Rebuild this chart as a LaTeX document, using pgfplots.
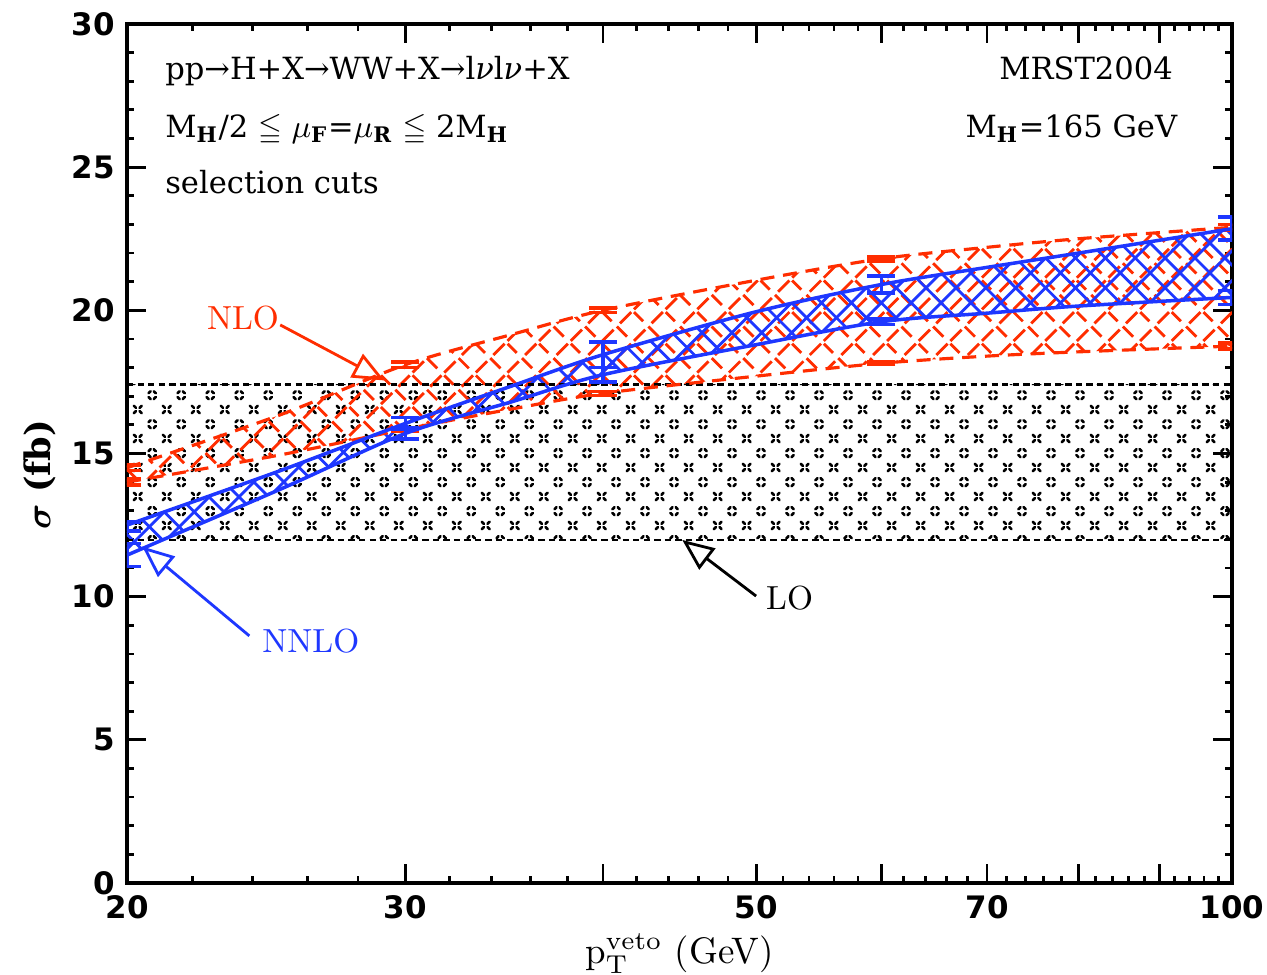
\documentclass[border=0pt]{standalone}
\usepackage{amsmath, amssymb}
\usepackage{fontspec}
\usepackage{pgfplots}
\pgfplotsset{compat=1.18}
\usepgfplotslibrary{fillbetween}
\usetikzlibrary{patterns, arrows.meta, calc}
\newfontfamily\slab{DejaVu Serif}
\newfontfamily\ticksans{DejaVu Sans}
\definecolor{nlored}{RGB}{255,45,0}
\definecolor{nnloblue}{RGB}{30,55,255}

% blue crosshatch, solid
\pgfdeclarepatternformonly{bluehatch}{\pgfqpoint{-1pt}{-1pt}}{\pgfqpoint{9.5pt}{9.5pt}}{\pgfqpoint{8.5pt}{8.5pt}}{
  \pgfsetlinewidth{0.8pt}
  \pgfpathmoveto{\pgfqpoint{0pt}{0pt}}\pgfpathlineto{\pgfqpoint{8.5pt}{8.5pt}}
  \pgfpathmoveto{\pgfqpoint{0pt}{8.5pt}}\pgfpathlineto{\pgfqpoint{8.5pt}{0pt}}
  \pgfusepath{stroke}}
% red crosshatch, broken
\pgfdeclarepatternformonly{redhatch}{\pgfqpoint{-1pt}{-1pt}}{\pgfqpoint{10pt}{10pt}}{\pgfqpoint{9pt}{9pt}}{
  \pgfsetlinewidth{0.8pt}
  \pgfpathmoveto{\pgfqpoint{0.4pt}{0.4pt}}\pgfpathlineto{\pgfqpoint{3.6pt}{3.6pt}}
  \pgfpathmoveto{\pgfqpoint{5.4pt}{5.4pt}}\pgfpathlineto{\pgfqpoint{8.6pt}{8.6pt}}
  \pgfpathmoveto{\pgfqpoint{0.4pt}{8.6pt}}\pgfpathlineto{\pgfqpoint{3.0pt}{6.0pt}}
  \pgfpathmoveto{\pgfqpoint{4.5pt}{4.5pt}}\pgfpathlineto{\pgfqpoint{7.4pt}{1.6pt}}
  \pgfusepath{stroke}}
% LO dotted crosshatch
\pgfdeclarepatternformonly{lodots}{\pgfqpoint{-0.5pt}{-0.5pt}}{\pgfqpoint{8.75pt}{8.75pt}}{\pgfqpoint{8.25pt}{8.25pt}}{
  \pgfsetlinewidth{0.75pt}
  \pgfsetroundcap
  % ^ mark
  \pgfpathmoveto{\pgfqpoint{1.0pt}{0.5pt}}\pgfpathlineto{\pgfqpoint{1.6pt}{1.1pt}}
  \pgfpathmoveto{\pgfqpoint{2.5pt}{1.1pt}}\pgfpathlineto{\pgfqpoint{3.1pt}{0.5pt}}
  % x mark
  \pgfpathmoveto{\pgfqpoint{5.1pt}{3.1pt}}\pgfpathlineto{\pgfqpoint{5.7pt}{3.7pt}}
  \pgfpathmoveto{\pgfqpoint{7.3pt}{3.1pt}}\pgfpathlineto{\pgfqpoint{6.7pt}{3.7pt}}
  \pgfpathmoveto{\pgfqpoint{5.1pt}{5.2pt}}\pgfpathlineto{\pgfqpoint{5.7pt}{4.6pt}}
  \pgfpathmoveto{\pgfqpoint{7.3pt}{5.2pt}}\pgfpathlineto{\pgfqpoint{6.7pt}{4.6pt}}
  % v mark
  \pgfpathmoveto{\pgfqpoint{1.0pt}{7.7pt}}\pgfpathlineto{\pgfqpoint{1.6pt}{7.1pt}}
  \pgfpathmoveto{\pgfqpoint{2.5pt}{7.1pt}}\pgfpathlineto{\pgfqpoint{3.1pt}{7.7pt}}
  \pgfusepath{stroke}}

\begin{document}
\begin{tikzpicture}
\begin{axis}[
    name=ax,
    scale only axis,
    width=11.05cm, height=8.59cm,
    xmode=log,
    xmin=20, xmax=100, ymin=0, ymax=30,
    xtick={20,30,40,50,60,70,80,90,100},
    xticklabels={20,30,,50,,70,,,100},
    minor xtick={22,24,26,28,32,34,36,38,42,44,46,48,52,54,56,58,62,64,66,68,72,74,76,78,82,84,86,88,92,94,96,98},
    ytick={0,5,10,15,20,25,30},
    minor y tick num=4,
    tick align=inside,
    major tick length=0.19cm,
    minor tick length=0.07cm,
    every tick/.style={black, line width=0.8pt},
    axis line style={line width=1pt},
    /pgf/number format/assume math mode=true,
    tick label style={font=\ticksans\bfseries\fontsize{8.8}{10}\selectfont},
    xlabel={$\mathrm{p}_{\mathrm{T}}^{\mathrm{veto}}$ (GeV)},
    xlabel style={font=\fontsize{10.5}{12}\selectfont, at={(axis description cs:0.5,-0.082)}, anchor=center},
    ylabel={$\boldsymbol{\sigma}$ {\slab\bfseries (fb)}},
    ylabel style={font=\fontsize{10}{12}\selectfont, at={(axis description cs:-0.079,0.475)}, anchor=center},
    clip=true,
]
  % LO band
  \addplot[name path=lou, black, line width=0.8pt, dash pattern=on 1.8pt off 1.2pt] coordinates {(20,17.4)(100,17.4)};
  \addplot[name path=lol, black, line width=0.8pt, dash pattern=on 1.8pt off 1.2pt] coordinates {(20,11.98)(100,11.98)};
  \addplot[pattern=lodots, pattern color=black, draw=none] fill between[of=lou and lol];

  % NLO band
  \addplot[name path=nu, nlored, smooth, tension=0.5, line width=0.9pt, dash pattern=on 4pt off 2.5pt] coordinates {
    (20,14.5)(25,16.35)(30,18.1)(35,19.15)(40,20.0)(50,21.05)(60,21.8)(70,22.2)(80,22.5)(100,22.9)};
  \addplot[name path=nl, nlored, smooth, tension=0.5, line width=0.9pt, dash pattern=on 4pt off 2.5pt] coordinates {
    (20,14.0)(25,14.95)(30,15.85)(35,16.55)(40,17.1)(50,17.7)(60,18.15)(70,18.4)(80,18.55)(100,18.75)};
  \addplot[pattern=redhatch, pattern color=nlored, draw=none] fill between[of=nu and nl];

  % NLO error bars
  \addplot[draw=none, mark=none, error bars/.cd, y dir=both, y explicit,
    error bar style={draw=nlored, line width=1pt, solid},
    error mark options={rotate=90, draw=nlored, line width=1pt, mark size=4pt, solid}] coordinates {
    (20,14.5) +- (0,0.1) (30,18.1) +- (0,0.1) (40,20.0) +- (0,0.08) (60,21.8) +- (0,0.07) (100,22.9) +- (0,0.1)
    (20,14.0) +- (0,0.1) (30,15.85) +- (0,0.06) (40,17.1) +- (0,0.07) (60,18.15) +- (0,0.05) (100,18.75) +- (0,0.1)};

  % NNLO band
  \addplot[name path=bu, nnloblue, smooth, tension=0.5, line width=1pt] coordinates {
    (20,12.5)(25,14.4)(30,16.05)(35,17.35)(40,18.45)(50,19.95)(60,20.9)(70,21.5)(80,22.0)(100,22.85)};
  \addplot[name path=bl, nnloblue, smooth, tension=0.5, line width=1pt] coordinates {
    (20,11.45)(25,13.75)(30,15.7)(35,16.8)(40,17.75)(50,18.8)(60,19.6)(70,19.9)(80,20.15)(100,20.45)};
  \addplot[pattern=bluehatch, pattern color=nnloblue, draw=none] fill between[of=bu and bl];

  % NNLO error bars
  \addplot[draw=none, mark=none, error bars/.cd, y dir=both, y explicit,
    error bar style={draw=nnloblue, line width=1pt, solid},
    error mark options={rotate=90, draw=nnloblue, line width=1pt, mark size=4pt, solid}] coordinates {
    (20,12.45) +- (0,0.15) (30,16.05) +- (0,0.2) (40,18.45) +- (0,0.45) (60,20.9) +- (0,0.3) (100,22.85) +- (0,0.4)
    (20,11.45) +- (0,0.4) (30,15.7) +- (0,0.2) (40,17.75) +- (0,0.25) (60,19.6) +- (0,0.1) (100,20.45) +- (0,0.25)};

  % labels and arrows
  \node[nlored, font=\fontsize{9.5}{11}\selectfont] at (axis cs:23.68,19.73) {NLO};
  \draw[nlored, line width=0.8pt, -{Triangle[open, length=9pt, width=7.5pt]}] (axis cs:25.0,19.49) -- (axis cs:29.1,17.55);
  \node[nnloblue, font=\fontsize{9.5}{11}\selectfont] at (axis cs:26.14,8.45) {NNLO};
  \draw[nnloblue, line width=0.8pt, -{Triangle[open, length=9pt, width=7.5pt]}] (axis cs:23.9,8.63) -- (axis cs:20.45,11.75);
  \node[black, font=\fontsize{9.5}{11}\selectfont] at (axis cs:52.5,9.95) {LO};
  \draw[black, line width=0.8pt, -{Triangle[open, length=9pt, width=7.5pt]}] (axis cs:50.0,10.02) -- (axis cs:44.9,11.98);

  % text
  \begin{scope}[every node/.style={inner sep=0pt, font=\slab\fontsize{8.7}{10}\selectfont}]
  \node[anchor=base west] at (rel axis cs:0.034,0.935) {pp→H+X→WW+X→l\textit{ν}l\textit{ν}+X};
  \node[anchor=base west] at (rel axis cs:0.034,0.868) {M\textsubscript{\bfseries H}/2 $\leqq$ $\mu$\textsubscript{\bfseries F}=$\mu$\textsubscript{\bfseries R} $\leqq$ 2M\textsubscript{\bfseries H}};
  \node[anchor=base west] at (rel axis cs:0.034,0.803) {selection cuts};
  \node[anchor=base east] at (rel axis cs:0.947,0.935) {MRST2004};
  \node[anchor=base east] at (rel axis cs:0.951,0.868) {M\textsubscript{\bfseries H}=165 GeV};
  \end{scope}
\end{axis}
\pgfresetboundingbox
\path ($(ax.south west)+(-1.27cm,-0.92cm)$) rectangle ($(ax.north east)+(0.35cm,0.24cm)$);
\end{tikzpicture}
\end{document}
